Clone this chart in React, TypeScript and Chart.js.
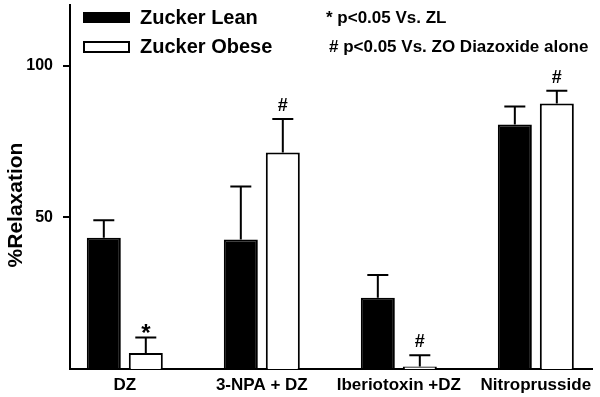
import React, { useEffect, useRef } from "react";
import { Chart, registerables } from "chart.js";

Chart.register(...registerables);

const categories = ["DZ", "3-NPA + DZ", "Iberiotoxin +DZ", "Nitroprusside"];
const seriesNames = ["Zucker Lean", "Zucker Obese"];
const leanValues = [43.3, 42.7, 23.5, 80.6];
const leanErrors = [5.7, 17.5, 7.5, 5.9];
const obeseValues = [5.3, 71.4, 0.8, 87.5];
const obeseErrors = [5.1, 11.0, 3.7, 4.2];
const obeseMarks = ["*", "#", "#", "#"];
const yTicks = [50, 100];
const yTitle = "%Relaxation";
const noteLines = ["* p<0.05 Vs. ZL", "# p<0.05 Vs. ZO Diazoxide alone"];

const FONT = "'Liberation Sans', Arial, sans-serif";

export default function App() {
  const ref = useRef<HTMLCanvasElement | null>(null);

  useEffect(() => {
    const canvas = ref.current;
    if (!canvas) return;
    const errors = [leanErrors, obeseErrors];
    const marks = [null, obeseMarks];

    const overlay = {
      id: "overlay",
      afterDatasetsDraw(chart: any) {
        const ctx = chart.ctx;
        const yScale = chart.scales.y;
        ctx.save();
        ctx.strokeStyle = "#000";
        ctx.fillStyle = "#000";
        ctx.lineWidth = 2;
        chart.data.datasets.forEach((ds: any, di: number) => {
          const meta = chart.getDatasetMeta(di);
          meta.data.forEach((bar: any, i: number) => {
            const v = ds.data[i];
            const topY = yScale.getPixelForValue(v + errors[di][i]);
            ctx.beginPath();
            ctx.moveTo(bar.x, bar.y);
            ctx.lineTo(bar.x, topY);
            ctx.moveTo(bar.x - 10.5, topY);
            ctx.lineTo(bar.x + 10.5, topY);
            ctx.stroke();
            const m = marks[di];
            if (m && m[i]) {
              const isStar = m[i] === "*";
              ctx.font = `bold ${isStar ? 24 : 18}px ${FONT}`;
              ctx.textAlign = "center";
              ctx.textBaseline = "alphabetic";
              ctx.fillText(m[i], bar.x, topY + (isStar ? 4 : -8));
            }
          });
        });
        ctx.restore();
      },
      afterDraw(chart: any) {
        const ctx = chart.ctx;
        ctx.save();
        ctx.fillStyle = "#000";
        ctx.strokeStyle = "#000";
        // legend
        ctx.fillRect(83, 12, 47, 11);
        ctx.lineWidth = 2;
        ctx.fillStyle = "#fff";
        ctx.fillRect(84, 42, 45, 10);
        ctx.strokeRect(84, 42, 45, 10);
        ctx.fillStyle = "#000";
        ctx.font = `bold 20px ${FONT}`;
        ctx.textAlign = "left";
        ctx.textBaseline = "middle";
        ctx.fillText(seriesNames[0], 140, 18);
        ctx.fillText(seriesNames[1], 140, 47);
        // notes
        ctx.font = `bold 17px ${FONT}`;
        ctx.fillText(noteLines[0], 326, 18);
        ctx.fillText(noteLines[1], 329, 47);
        // y title
        ctx.translate(22, 205);
        ctx.rotate(-Math.PI / 2);
        ctx.font = `bold 21px ${FONT}`;
        ctx.textAlign = "center";
        ctx.textBaseline = "alphabetic";
        ctx.fillText(yTitle, 0, 0);
        ctx.restore();
      },
    };

    const chart = new Chart(canvas, {
      type: "bar",
      data: {
        labels: categories.map((_, i) => i),
        datasets: [
          {
            label: seriesNames[0],
            data: leanValues,
            backgroundColor: "#000",
            borderColor: "#000",
            borderWidth: 2,
          },
          {
            label: seriesNames[1],
            data: obeseValues,
            backgroundColor: "#fff",
            borderColor: "#000",
            borderWidth: 2,
          },
        ],
      },
      options: {
        responsive: false,
        animation: false,
        devicePixelRatio: 1,
        categoryPercentage: 0.613,
        barPercentage: 0.81,
        layout: { padding: { top: 5, right: 8, left: 0, bottom: 0 } },
        plugins: {
          legend: { display: false },
          tooltip: { enabled: false },
        },
        scales: {
          x: {
            type: "linear",
            offset: false,
            min: -0.4,
            max: 3.41,
            afterBuildTicks: (s: any) => {
              s.ticks = categories.map((_, i) => ({ value: i }));
            },
            afterFit: (s: any) => {
              s.height = 28;
              s.paddingLeft = 0;
              s.paddingRight = 0;
            },
            grid: { display: false, drawTicks: false },
            border: { display: true, color: "#000", width: 2 },
            ticks: {
              autoSkip: false,
              maxRotation: 0,
              padding: 6,
              color: "#000",
              font: { family: FONT, size: 17, weight: "bold" },
              callback: (v: any) => categories[v] ?? "",
            },
          },
          y: {
            min: 0,
            max: 120,
            afterBuildTicks: (s: any) => {
              s.ticks = yTicks.map((v) => ({ value: v }));
            },
            afterFit: (s: any) => {
              s.width = 70;
              s.paddingTop = 0;
              s.paddingBottom = 0;
            },
            grid: {
              display: true,
              drawOnChartArea: false,
              drawTicks: true,
              tickLength: 7,
              color: "#000",
              lineWidth: 2,
            },
            border: { display: true, color: "#000", width: 2 },
            ticks: {
              padding: 10,
              color: "#000",
              font: { family: FONT, size: 16, weight: "bold" },
            },
          },
        },
      },
      plugins: [overlay],
    } as any);

    return () => chart.destroy();
  }, []);

  return (
    <div style={{ position: "fixed", left: 0, top: 0, width: 600, height: 397, background: "#fff" }}>
      <canvas ref={ref} width={600} height={397} style={{ width: 600, height: 397 }} />
    </div>
  );
}
